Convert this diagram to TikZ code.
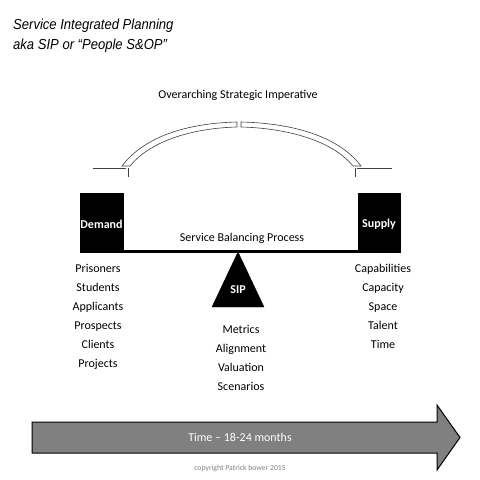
\documentclass[tikz,border=0pt]{standalone}
\usepackage{fontspec}
\setmainfont{Carlito}
\newfontfamily\arialfont{Liberation Sans}
\begin{document}
\begin{tikzpicture}[x=1pt,y=-1pt,
  lbl/.style={font=\fontsize{12}{12}\selectfont, inner sep=0pt, anchor=center},
  listlbl/.style={inner sep=0pt, align=center, anchor=north, font=\fontsize{12}{19}\selectfont},
  titlelbl/.style={anchor=west, inner sep=0pt, font=\arialfont\itshape\fontsize{14.5}{14.5}\selectfont},
  whitebold/.style={font=\fontsize{12}{12}\selectfont\bfseries, text=white, inner sep=0pt},
  blackbox/.style={fill=black, draw=black},
  archline/.style={draw=black!75, line width=0.6pt, fill=white}]
\useasboundingbox (0,0) rectangle (480,480);
% title
\node[titlelbl] (t1) at (13,26) {\scalebox{0.9}[1]{Service Integrated Planning}};
\node[titlelbl] (t2) at (13,46) {\scalebox{0.9}[1]{aka SIP or “People S\&OP”}};
% overarching
\node[lbl] (osi) at (238,95) {Overarching Strategic Imperative};
% arch halves
\path[archline] (122,166) .. controls (147,133) and (195,123) .. (237,122) -- (237,127) .. controls (197,128) and (152,139) .. (130,166) -- cycle;
\path[archline] (361,166) .. controls (336,133) and (285,123) .. (241,122) -- (241,127) .. controls (283,128) and (331,139) .. (353,166) -- cycle;
\draw[black!75, line width=0.6pt] (93,168) -- (126,168) (128,168) -- (128,177);
\draw[black!75, line width=0.6pt] (357,168) -- (392,168) (355,168) -- (355,177);
% boxes
\path[blackbox] (80,193) rectangle (123,252);
\path[blackbox] (358,193) rectangle (400,252);
\node[whitebold] (demand) at (101.5,224) {Demand};
\node[whitebold] (supply) at (379,224) {Supply};
% beam
\draw[line width=3pt] (123,251) -- (358,251);
\node[lbl] (sbp) at (242,238) {Service Balancing Process};
% fulcrum
\path[blackbox] (238,252) -- (264,307) -- (212,307) -- cycle;
\node[whitebold] (sip) at (238,290) {SIP};
% lists
\node[listlbl] (dl) at (98,264) {Prisoners\\Students\\Applicants\\Prospects\\Clients\\Projects};
\node[listlbl] (sl) at (383,264) {Capabilities\\Capacity\\Space\\Talent\\Time};
\node[listlbl] (ml) at (241,325) {Metrics\\Alignment\\Valuation\\Scenarios};
% arrow
\path[fill=black!50, draw=black, line width=1pt] (32,422) -- (437,422) -- (437,405) -- (460,437.5) -- (437,470) -- (437,453) -- (32,453) -- cycle;
\node[lbl, text=white] (time) at (240,437.5) {Time – 18-24 months};
\node[inner sep=0pt, font=\fontsize{7.7}{7.7}\selectfont, text=black!50] (copy) at (240,468) {copyright Patrick bower 2015};
\end{tikzpicture}
\end{document}
